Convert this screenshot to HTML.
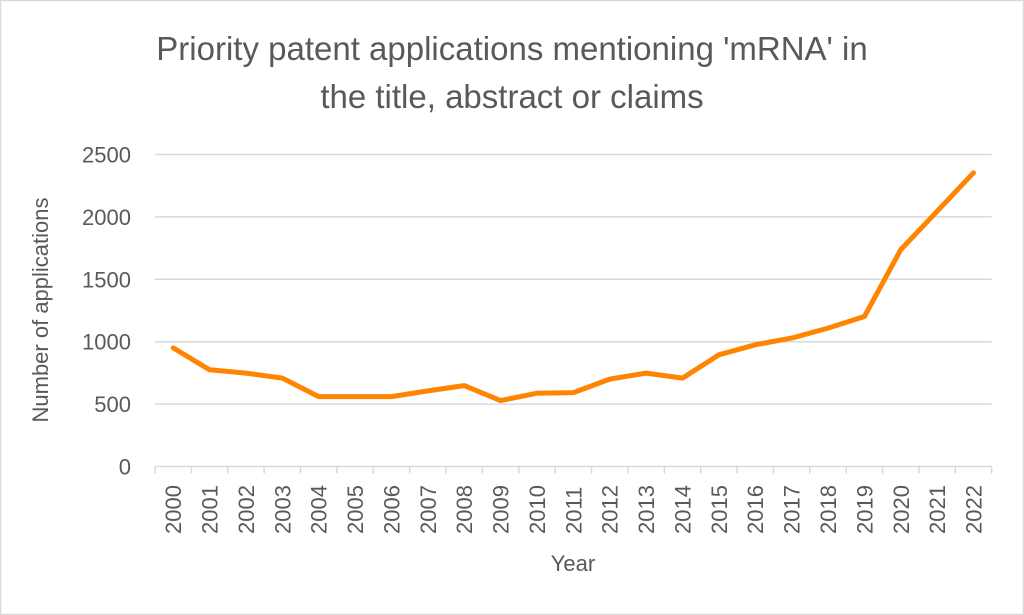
<!DOCTYPE html>
<html><head><meta charset="utf-8"><style>
html,body{margin:0;padding:0;background:#fff;}
svg{display:block;font-family:"Liberation Sans",sans-serif;}
</style></head><body>
<svg id="chart" width="1024" height="615" viewBox="0 0 1024 615">
<rect x="0.5" y="0.5" width="1023" height="614" fill="#fff" stroke="#d9d9d9" stroke-width="1.5"/>
<text x="512" y="60" text-anchor="middle" font-size="33" fill="#595959">Priority patent applications mentioning 'mRNA' in</text>
<text x="512" y="108" text-anchor="middle" font-size="33" fill="#595959">the title, abstract or claims</text>
<text transform="translate(48,310) rotate(-90)" text-anchor="middle" font-size="22" fill="#595959">Number of applications</text>
<text x="573" y="571" text-anchor="middle" font-size="22" fill="#595959">Year</text>
<g id="grid"></g><g id="xaxis"></g><g id="series"></g>
</svg>
<script>
const years=["2000","2001","2002","2003","2004","2005","2006","2007","2008","2009","2010","2011","2012","2013","2014","2015","2016","2017","2018","2019","2020","2021","2022"];
const applications=[950,775,748,708,560,560,560,606,648,528,587,592,700,748,708,895,975,1029,1109,1202,1738,2045,2353];
const yTicks=[0,500,1000,1500,2000,2500];
const NS="http://www.w3.org/2000/svg";
const x0=155,x1=991.7,yBase=466.5,yTop=154.5,yMax=2500;
const bw=(x1-x0)/years.length;
function xPos(i){return x0+bw*(i+0.5);}
function yPos(v){return yBase-(v/yMax)*(yBase-yTop);}
function mk(t,a){const e=document.createElementNS(NS,t);for(const k in a)e.setAttribute(k,a[k]);return e;}
const grid=document.getElementById('grid');
yTicks.forEach(v=>{
  const l=mk('line',{x1:x0,x2:x1,y1:yPos(v),y2:yPos(v),stroke:'#d9d9d9','stroke-width':1.5});
  
  
  grid.appendChild(l);
  const t=mk('text',{x:131,y:yPos(v)+8,'text-anchor':'end','font-size':22,fill:'#595959'});
  
  
  t.textContent=v;grid.appendChild(t);
});
const xa=document.getElementById('xaxis');
for(let i=0;i<=years.length;i++){
  const x=x0+bw*i;
  const tk=mk('line',{x1:x,x2:x,y1:yBase,y2:yBase+7,stroke:'#d9d9d9','stroke-width':1.5});
  
  
  xa.appendChild(tk);
}
years.forEach((y,i)=>{
  const t=mk('text',{transform:`translate(${xPos(i)+8},${534}) rotate(-90)`,'font-size':22,fill:'#595959'});
  
  
  t.textContent=y;xa.appendChild(t);
});
const pts=applications.map((v,i)=>xPos(i).toFixed(1)+','+yPos(v).toFixed(1)).join(' ');
const pl=mk('polyline',{points:pts,fill:'none',stroke:'#ff8400','stroke-width':5,'stroke-linejoin':'round','stroke-linecap':'round'});


document.getElementById('series').appendChild(pl);
</script>
</body></html>
